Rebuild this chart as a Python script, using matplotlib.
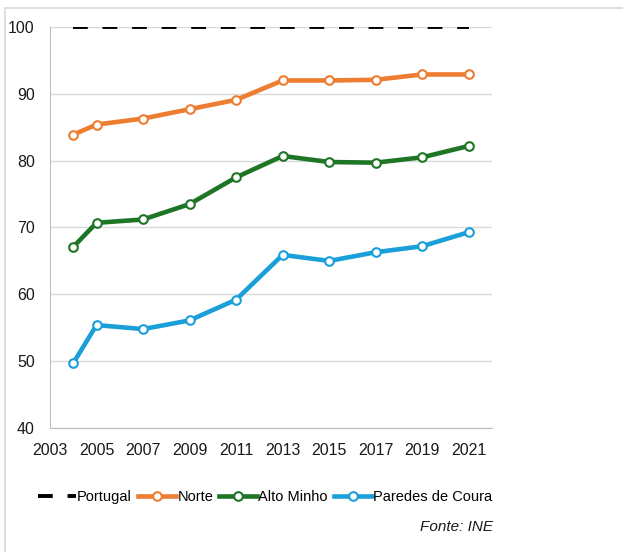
import matplotlib
matplotlib.use("Agg")
import matplotlib.pyplot as plt
from matplotlib.patches import Rectangle

# Data
years = [2004, 2005, 2007, 2009, 2011, 2013, 2015, 2017, 2019, 2021]
portugal = [100, 100, 100, 100, 100, 100, 100, 100, 100, 100]
norte = [83.9, 85.4, 86.3, 87.7, 89.1, 92.0, 92.0, 92.1, 92.9, 92.9]
alto_minho = [67.1, 70.7, 71.2, 73.5, 77.5, 80.7, 79.8, 79.7, 80.5, 82.2]
paredes_coura = [49.7, 55.4, 54.8, 56.1, 59.2, 65.9, 65.0, 66.3, 67.2, 69.3]
x_ticks = [2003, 2005, 2007, 2009, 2011, 2013, 2015, 2017, 2019, 2021]
y_ticks = [40, 50, 60, 70, 80, 90, 100]

plt.rcParams['font.family'] = ['Liberation Sans', 'DejaVu Sans']

fig = plt.figure(figsize=(6.23, 5.52), dpi=100)
ax = fig.add_axes([50 / 623, 1 - 428 / 552, 442 / 623, 401 / 552])

# outer frame
fig.patches.append(Rectangle((5 / 623, -0.1), 1.2, (552 - 8) / 552 + 0.1,
                             transform=fig.transFigure, fill=False,
                             edgecolor='#d9d9d9', linewidth=1.2))

ax.plot(years, portugal, color='black', lw=2.8, dashes=(3.8, 3.8), label='Portugal')
mk = dict(marker='o', markersize=6.2, markerfacecolor='white', markeredgewidth=1.5, lw=3.3)
ax.plot(years, norte, color='#ed7d31', markeredgecolor='#ed7d31', label='Norte', **mk)
ax.plot(years, alto_minho, color='#1e7526', markeredgecolor='#1e7526', label='Alto Minho', **mk)
ax.plot(years, paredes_coura, color='#1a9fd9', markeredgecolor='#1a9fd9', label='Paredes de Coura', **mk)

ax.set_xlim(2003, 2022)
ax.set_ylim(40, 100)
ax.set_xticks(x_ticks)
ax.set_yticks(y_ticks)
ax.tick_params(length=0, labelsize=11.5, colors='#1a1a1a')
ax.tick_params(axis='x', pad=11)
ax.tick_params(axis='y', pad=11)
ax.grid(axis='y', color='#d9d9d9', lw=1)
ax.set_axisbelow(True)
for s in ['top', 'right']:
    ax.spines[s].set_visible(False)
ax.spines['left'].set_color('#bfbfbf')
ax.spines['bottom'].set_color('#bfbfbf')

fig.legend(loc='center', bbox_to_anchor=(265 / 623, 1 - 497 / 552), ncol=4,
           frameon=False, fontsize=10.5, handlelength=2.6, handletextpad=0.1,
           columnspacing=0.4, borderpad=0)
fig.text(493 / 623, 1 - 527 / 552, 'Fonte: INE', ha='right', va='center',
         fontsize=11, style='italic', color='#1a1a1a')

fig.savefig('out.png', dpi=100)
